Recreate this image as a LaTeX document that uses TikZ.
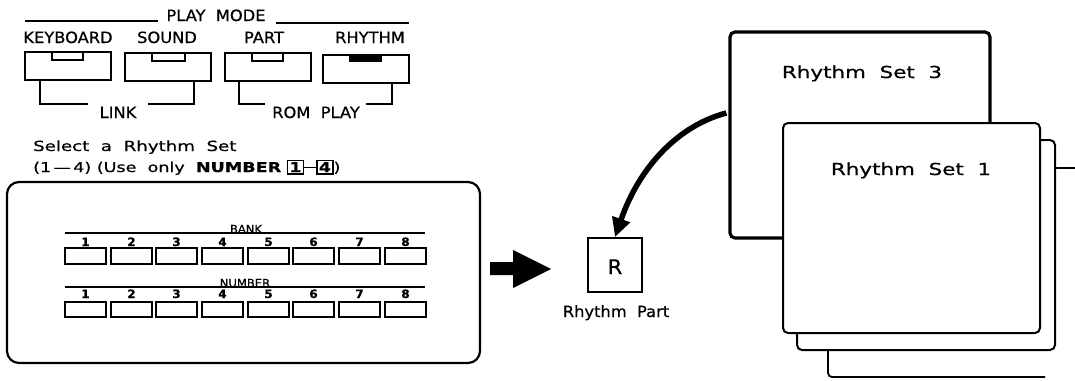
\documentclass[tikz,border=0pt]{standalone}
\usepackage{fontspec}
\setmainfont{DejaVu Sans}[FakeStretch=1.05,FakeBold=0.6]
\newfontfamily\dfw{DejaVu Sans}[FakeStretch=1.3,FakeBold=0.6]
\usetikzlibrary{arrows.meta,calc}
\newcommand\boxd[1]{{\fboxsep=1.2pt\fboxrule=1.4pt\fbox{\textbf{#1}}}}
\begin{document}
\begin{tikzpicture}[x=1pt,y=-1pt,
  lw/.style={line width=1.4pt},
  btn/.style={draw, line width=1.8pt, minimum width=86pt, minimum height=28pt, inner sep=0pt},
  bk/.style={draw, line width=1.8pt, minimum width=41pt, minimum height=16pt, inner sep=0pt},
  lbl/.style={font=\fontsize{15.5}{17}\selectfont, inner sep=0pt, anchor=base},
  small/.style={font=\fontsize{11}{12}\selectfont, inner sep=0pt, anchor=base},
  num/.style={font=\fontsize{11.5}{12}\selectfont\bfseries, inner sep=0pt, anchor=base},
  card/.style={draw, line width=2pt, rounded corners=5pt, fill=white, inner sep=0pt},
  big/.style={font=\dfw\fontsize{16.5}{18}\selectfont, inner sep=0pt, anchor=base}]
\useasboundingbox (0,0) rectangle (1075,380);

% ---- PLAY MODE header
\node[lbl] (pm) at (216,21) {PLAY\ \ MODE};
\coordinate (pmA) at (25,21);
\coordinate (pmB) at (409,23);
\coordinate (pmC) at (158,21);
\coordinate (pmD) at (276,23);
\draw[lw] (pmA) -- (pmC);
\draw[lw] (pmD) -- (pmB);

\node[lbl] (kbl) at (68,43) {KEYBOARD};
\node[lbl] (sdl) at (167,43) {SOUND};
\node[lbl] (ptl) at (264,43) {PART};
\node[lbl] (rhl) at (370,43) {RHYTHM};

\node[btn] (kb) at (68,66) {};
\node[btn] (sd) at (168,67) {};
\node[btn] (pt) at (268,67) {};
\node[btn] (rh) at (366,69) {};

\draw[lw] (52,52) rectangle (83,60);
\draw[lw] (152,53) rectangle (185,61);
\draw[lw] (252,53) rectangle (283,61);
\fill (349,55) rectangle (382,62);

% ---- LINK / ROM PLAY brackets
\node[lbl] (link) at (118,118) {LINK};
\node[lbl] (rom) at (316,118) {ROM\ \ PLAY};
\coordinate (lkL) at (88,104);
\coordinate (lkR) at (148,104);
\coordinate (rpL) at (265,104);
\coordinate (rpR) at (366,104);
\draw[lw] ($(kb.south west)+(16,0)$) |- (lkL);
\draw[lw] (lkR) -| ($(sd.south east)+(-18,0)$);
\draw[lw] ($(pt.south west)+(15,0)$) |- (rpL);
\draw[lw] (rpR) -| ($(rh.south east)+(-18,0)$);

% ---- instruction text
\node[font=\dfw\fontsize{14}{16}\selectfont, inner sep=0pt, anchor=base west] (sel1) at (33,151) {Select\ \ a\ \ Rhythm\ \ Set};
\node[font=\dfw\fontsize{13.5}{16}\selectfont, inner sep=0pt, anchor=base west] (sel2) at (33,172)
  {(1\,—\,4) (Use\ \ only\ \ \textbf{NUMBER}\ \boxd{1}\rule[4.5pt]{12pt}{0.9pt}\boxd{4})};

% ---- panel with BANK / NUMBER buttons
\node[draw, line width=2.2pt, rounded corners=12pt, minimum width=473pt, minimum height=181pt, inner sep=0pt] (panel) at (243.5,272.5) {};
\coordinate (bkA) at (65,233);
\coordinate (bkB) at (425,233);
\coordinate (nbA) at (65,287);
\coordinate (nbB) at (425,287);
\draw[line width=1.3pt] (bkA) -- (bkB);
\draw[line width=1.3pt] (nbA) -- (nbB);
\node[small] (bank) at (246,233) {BANK};
\node[small] (number) at (245,287) {NUMBER};
\foreach \i in {1,...,8}{
  \pgfmathsetmacro\cx{round(85+45.7*(\i-1))+0.5}
  \node[bk] (b\i) at (\cx,256) {};
  \node[num] (bn\i) at (\cx,246) {\i};
  \node[bk, minimum height=15pt] (n\i) at (\cx,309.5) {};
  \node[num] (nn\i) at (\cx,298) {\i};
}

% ---- block arrow
\fill (490,262) -- (513,262) -- (513,250) -- (551,269) -- (513,288) -- (513,275) -- (490,275) -- cycle;

% ---- Rhythm part
\node[draw, line width=1.9pt, minimum width=54pt, minimum height=54pt, inner sep=0pt] (rbox) at (615,265) {};
\node[font=\fontsize{20}{22}\selectfont, inner sep=0pt, anchor=base] (rlet) at (615,274) {R};
\node[lbl] (rpart) at (616,317) {Rhythm\ \ Part};

% ---- Rhythm set cards
\draw[line width=1.8pt, rounded corners=4pt] (828,350) -- (828,377) -- (1045,377);
\node[card, minimum width=258pt, minimum height=210pt] (cardA) at (926,245) {};
\coordinate (edge) at (1075,168);
\draw[line width=1.3pt] (cardA.east |- edge) -- (edge);
\node[card, line width=3.2pt, minimum width=260pt, minimum height=206pt] (set3) at (860,135) {};
\node[big] (t3) at (862,78) {Rhythm\ \ Set\ \ 3};
\node[card, minimum width=257pt, minimum height=210pt] (set1) at (911.5,228) {};
\node[big] (t1) at (911,175) {Rhythm\ \ Set\ \ 1};

% ---- curved arrow
\draw[line width=5.5pt, -{Triangle[length=19pt,width=18pt]}]
  ($(set3.west)+(-2,-22)$) .. controls (680,125) and (640,165) .. (rbox.north);
\end{tikzpicture}
\end{document}
